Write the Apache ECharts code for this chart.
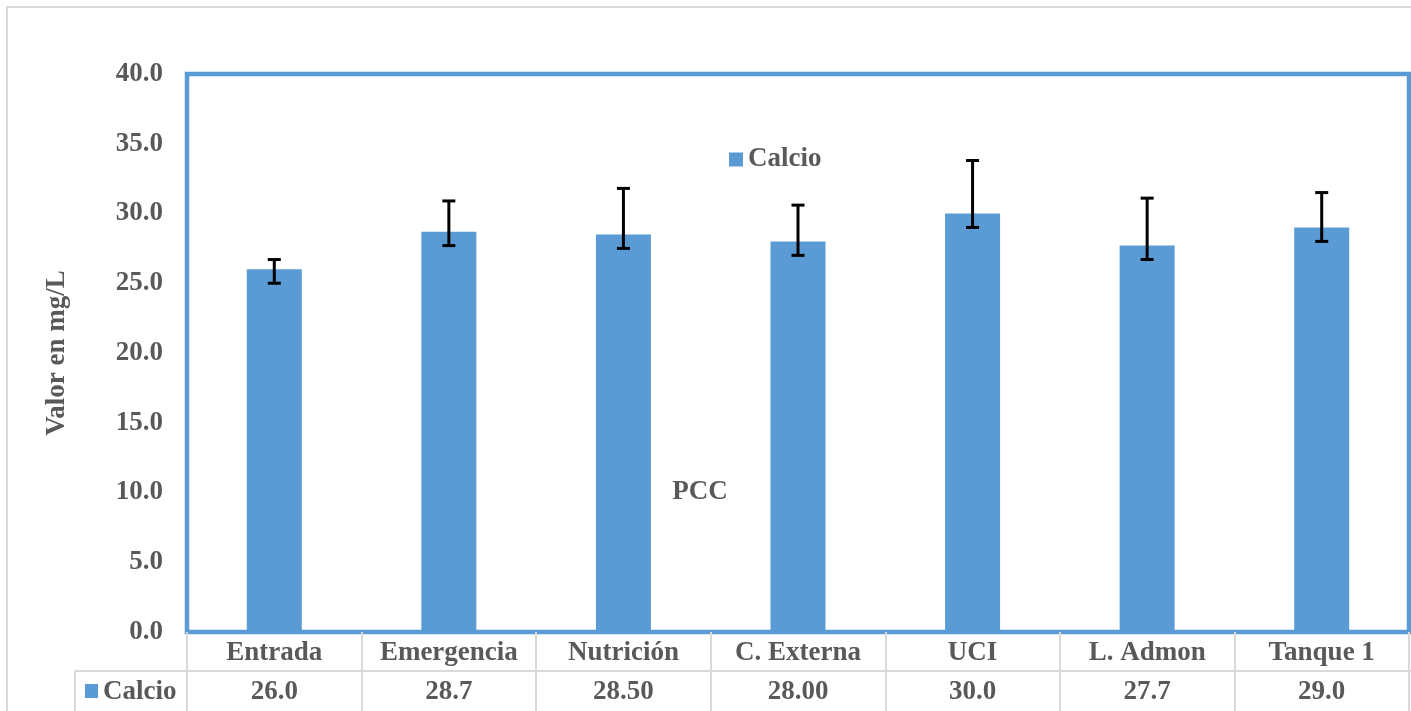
<!DOCTYPE html>
<html>
<head>
<meta charset="utf-8">
<script src="https://cdn.jsdelivr.net/npm/echarts@6/dist/echarts.min.js"></script>
<style>
  html, body { margin: 0; padding: 0; background: #fff; }
  #chart { width: 1411px; height: 711px; }
</style>
</head>
<body>
<div id="chart"></div>
<script>
// datos
const categories = ['Entrada', 'Emergencia', 'Nutrición', 'C. Externa', 'UCI', 'L. Admon', 'Tanque 1'];
const calcio = [26.0, 28.7, 28.5, 28.0, 30.0, 27.7, 29.0];
const tableText = ['26.0', '28.7', '28.50', '28.00', '30.0', '27.7', '29.0'];
const errLow = [25.0, 27.7, 27.5, 27.0, 29.0, 26.7, 28.0];
const errHigh = [26.7, 30.9, 31.8, 30.6, 33.8, 31.1, 31.5];
const yTicks = { min: 0, max: 40, interval: 5 };

const serif = "'Liberation Serif', 'Times New Roman', serif";
const gray = '#595959';
const blue = '#5B9BD5';
const lineGray = '#D9D9D9';

const chart = echarts.init(document.getElementById('chart'));

const errData = categories.map((c, i) => [i, errLow[i], errHigh[i]]);

chart.setOption({
  animation: false,
  grid: {
    left: 187, right: 2, top: 74, bottom: 79,
    show: true, borderColor: blue, borderWidth: 4.5, backgroundColor: 'transparent'
  },
  legend: {
    data: ['Calcio'],
    left: 724, top: 141,
    icon: 'rect', itemWidth: 14, itemHeight: 14,
    textStyle: { color: gray, fontFamily: serif, fontWeight: 'bold', fontSize: 27 }
  },
  xAxis: [
    {
      type: 'category',
      data: categories,
      axisLine: { lineStyle: { color: blue, width: 3 } },
      axisTick: { show: true, alignWithLabel: false, interval: 0, length: 80, lineStyle: { color: lineGray, width: 2 } },
      axisLabel: { interval: 0, margin: 8, color: gray, fontFamily: serif, fontWeight: 'bold', fontSize: 27 }
    },
    {
      type: 'category',
      data: tableText,
      position: 'bottom',
      offset: 39,
      axisLine: { show: false },
      axisTick: { show: false },
      axisLabel: { interval: 0, margin: 8, color: gray, fontFamily: serif, fontWeight: 'bold', fontSize: 27 }
    }
  ],
  yAxis: {
    type: 'value',
    min: yTicks.min, max: yTicks.max, interval: yTicks.interval,
    name: 'Valor en mg/L',
    nameLocation: 'middle',
    nameRotate: 90,
    nameGap: 116,
    nameTextStyle: { color: gray, fontFamily: serif, fontWeight: 'bold', fontSize: 27 },
    axisLine: { show: false },
    axisTick: { show: false },
    splitLine: { show: false },
    axisLabel: {
      margin: 24, color: gray, fontFamily: serif, fontWeight: 'bold', fontSize: 27,
      formatter: v => v.toFixed(1)
    }
  },
  series: [
    {
      name: 'Calcio',
      type: 'bar',
      data: calcio,
      barWidth: 55,
      itemStyle: { color: blue }
    },
    {
      type: 'custom',
      data: errData,
      z: 10,
      renderItem: (params, api) => {
        const x = api.value(0);
        const lo = api.coord([x, api.value(1)]);
        const hi = api.coord([x, api.value(2)]);
        const cap = 6.5;
        const style = { stroke: '#000', lineWidth: 3 };
        return {
          type: 'group',
          children: [
            { type: 'line', shape: { x1: hi[0], y1: hi[1], x2: lo[0], y2: lo[1] }, style },
            { type: 'line', shape: { x1: hi[0] - cap, y1: hi[1], x2: hi[0] + cap, y2: hi[1] }, style },
            { type: 'line', shape: { x1: lo[0] - cap, y1: lo[1], x2: lo[0] + cap, y2: lo[1] }, style }
          ]
        };
      }
    }
  ],
  graphic: [
    // borde exterior del area del grafico
    { type: 'rect', shape: { x: 7, y: 7, width: 1410, height: 720 }, style: { fill: 'none', stroke: lineGray, lineWidth: 2 }, silent: true },
    // lineas de la tabla
    { type: 'line', shape: { x1: 75, y1: 671, x2: 1411, y2: 671 }, style: { stroke: lineGray, lineWidth: 2 } },
    { type: 'line', shape: { x1: 75, y1: 671, x2: 75, y2: 711 }, style: { stroke: lineGray, lineWidth: 2 } },
    { type: 'rect', shape: { x: 85, y: 684, width: 13, height: 14 }, style: { fill: blue } },
    { type: 'text', x: 103, y: 692, style: { text: 'Calcio', fill: gray, font: "bold 27px 'Liberation Serif', serif", verticalAlign: 'middle' } },
    { type: 'text', x: 700, y: 492, style: { text: 'PCC', fill: gray, font: "bold 27px 'Liberation Serif', serif", align: 'center', verticalAlign: 'middle' } }
  ]
});
</script>
</body>
</html>
